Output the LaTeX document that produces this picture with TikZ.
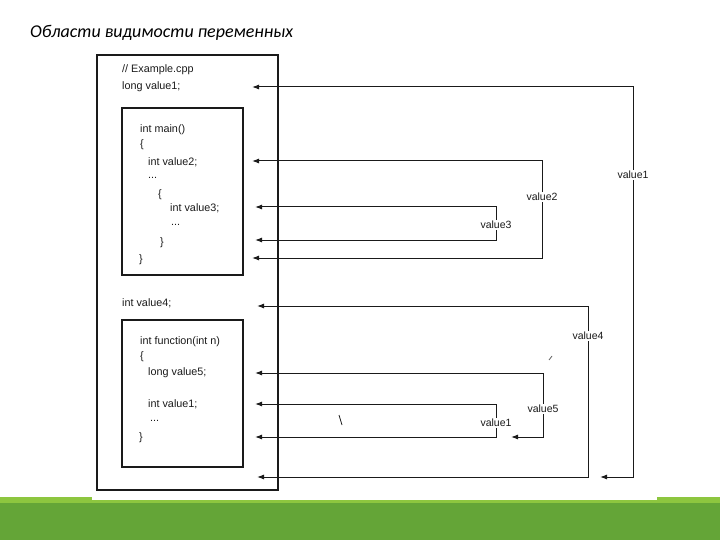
\documentclass[tikz,border=0pt]{standalone}
\usepackage{fontspec}
\usepackage{xcolor}
\usepackage{tikz}
\usetikzlibrary{arrows.meta,positioning,calc}
\newfontfamily\codefont{Liberation Sans}
\newfontfamily\titlefont{Carlito}
\definecolor{bandGreen}{HTML}{64A537}
\definecolor{bandLime}{HTML}{8DC63F}
\definecolor{lnDark}{HTML}{1A1A1A}

\begin{document}
\begin{tikzpicture}[x=1pt,y=-1pt,
  code/.style={anchor=west,inner sep=0pt,font=\codefont\fontsize{10.8}{12}\selectfont,text=lnDark},
  lbl/.style={fill=white,inner sep=1pt,font=\codefont\fontsize{10.5}{12}\selectfont,text=lnDark},
  scopebox/.style={draw=lnDark,line width=1.4pt},
  ar/.style={-{Latex[length=7pt,width=5pt]},draw=lnDark,line width=1pt}]
\useasboundingbox (0,0) rectangle (720,540);

% green band at the foot
\fill[bandGreen] (0,502) rectangle (720,540);
\fill[bandLime] (0,497) rectangle (720,502.5);
\fill[white] (92,490) rectangle (657,500);

\node[anchor=west,inner sep=0pt,font=\titlefont\itshape\fontsize{18}{20}\selectfont] (title) at (30,33)
  {Области видимости переменных};

% scopes
\draw[scopebox] (97,55) rectangle (278,490);
\draw[scopebox] (122,108) rectangle (243,275);
\draw[scopebox] (122,320) rectangle (243,467);

% code lines
\node[code] (c1) at (122,70) {// Example.cpp};
\node[code] (c2) at (122,87) {long value1;};
\node[code] (c3) at (140,130) {int main()};
\node[code] (c4) at (140,145) {\{};
\node[code] (c5) at (148,162) {int value2;};
\node[code] (c6) at (148,178) {...};
\node[code] (c7) at (158,195) {\{};
\node[code] (c8) at (170,208) {int value3;};
\node[code] (c9) at (171,225) {...};
\node[code] (c10) at (160,243) {\}};
\node[code] (c11) at (139,260) {\}};
\node[code] (c12) at (122,303) {int value4;};
\node[code] (c13) at (140,342) {int function(int n)};
\node[code] (c14) at (140,357) {\{};
\node[code] (c15) at (148,373) {long value5;};
\node[code] (c16) at (148,404) {int value1;};
\node[code] (c17) at (150,421) {...};
\node[code] (c18) at (139,438) {\}};

% arrow tips
\coordinate (t1a) at (252,87);   \coordinate (t1b) at (600,477);
\coordinate (t2a) at (252,161);  \coordinate (t2b) at (252,258);
\coordinate (t3a) at (255,207);  \coordinate (t3b) at (255,240);
\coordinate (t4a) at (257,306);  \coordinate (t4b) at (257,477);
\coordinate (t5a) at (255,373);  \coordinate (t5b) at (511,437);
\coordinate (t6a) at (255,404);  \coordinate (t6b) at (255,437);

% visibility brackets
\node[lbl] (v1) at (633,175) {value1};
\node[lbl] (v2) at (542,197) {value2};
\node[lbl] (v3) at (496,225) {value3};
\node[lbl] (v4) at (588,336) {value4};
\node[lbl] (v5) at (543,409) {value5};
\node[lbl] (v6) at (496,423) {value1};

\draw[ar] (v1) |- (t1a);  \draw[ar] (v1) |- (t1b);
\draw[ar] (v2) |- (t2a);  \draw[ar] (v2) |- (t2b);
\draw[ar] (v3) |- (t3a);  \draw[ar] (v3) |- (t3b);
\draw[ar] (v4) |- (t4a);  \draw[ar] (v4) |- (t4b);
\draw[ar] (v5) |- (t5a);  \draw[ar] (v5) |- (t5b);
\draw[ar] (v6) |- (t6a);  \draw[ar] (v6) |- (t6b);

% stray marks of the scan
\draw[lnDark,line width=0.8pt] (339,415) -- (342,425);
\draw[lnDark!70,line width=0.8pt] (549,360) -- (552,356);
\end{tikzpicture}
\end{document}
